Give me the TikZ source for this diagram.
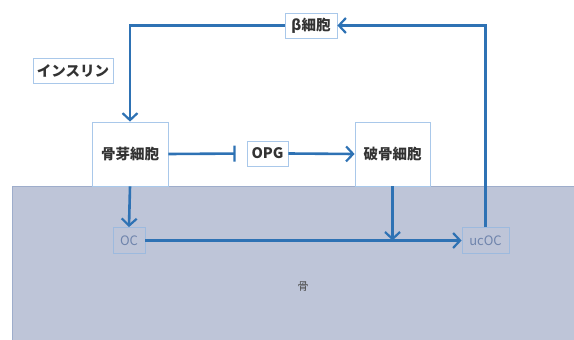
\documentclass[tikz,border=0pt]{standalone}
\usepackage{fontspec}
\usetikzlibrary{arrows.meta,calc}
\newfontfamily\jp{Noto Sans CJK JP}
\definecolor{linkblue}{HTML}{2E72B4}
\definecolor{boxblue}{HTML}{A9C8EA}
\definecolor{bonefill}{HTML}{BEC5D8}
\definecolor{boneedge}{HTML}{9EADCB}
\definecolor{inbone}{HTML}{6F84AC}
\tikzset{
  cell/.style={draw=boxblue,fill=white,line width=0.8pt,inner sep=0pt,font=\jp\bfseries\fontsize{14.5}{16}\selectfont,text=black!80},
  tag/.style={cell,minimum height=25pt},
  bonetag/.style={draw=boxblue!80!inbone,line width=0.8pt,inner sep=0pt,minimum height=26pt,font=\jp\fontsize{13}{15}\selectfont,text=inbone},
  link/.style={draw=linkblue,line width=2.6pt,-{Straight Barb[length=7pt,width=15pt,line width=2.2pt]}},
  block/.style={draw=linkblue,line width=2.6pt,-{Bar[width=16pt,line width=2.2pt]}}
}
\begin{document}
\begin{tikzpicture}[x=1pt,y=-1pt]
\clip (0,0) rectangle (574,340);
% bone
\draw[fill=bonefill,draw=boneedge,line width=1pt] (12,186) rectangle (590,370);
\node[font=\jp\fontsize{11}{13}\selectfont,text=black!70] (bone) at (303,287) {骨};
% cells
\node[cell,minimum width=76pt,minimum height=64pt] (osteo) at (130,154) {骨芽細胞};
\node[cell,minimum width=75pt,minimum height=64pt] (clast) at (392.5,154) {破骨細胞};
\node[tag,minimum width=41pt] (opg) at (267.5,153.5) {OPG};
\node[tag,minimum width=52pt] (beta) at (311,25.5) {β細胞};
\node[tag,minimum width=80pt] (insulin) at (73,70.5) {インスリン};
\node[bonetag,minimum width=32pt] (oc) at (129,240.5) {OC};
\node[bonetag,minimum width=47pt] (ucoc) at (485.5,240.5) {ucOC};
\coordinate (meet) at (clast.south |- oc.east);
% links
\draw[link] (beta.west) -| (osteo.north);
\draw[link] (ucoc.north) |- (beta.east);
\draw[block,shorten >=11pt] (osteo.east) -- (opg.west);
\draw[link] (opg.east) -- (clast.west);
\draw[link] (osteo.south) -- (oc.north);
\draw[link] (oc.east) -- (ucoc.west);
\draw[link] (clast.south) -- (meet);
\end{tikzpicture}
\end{document}
